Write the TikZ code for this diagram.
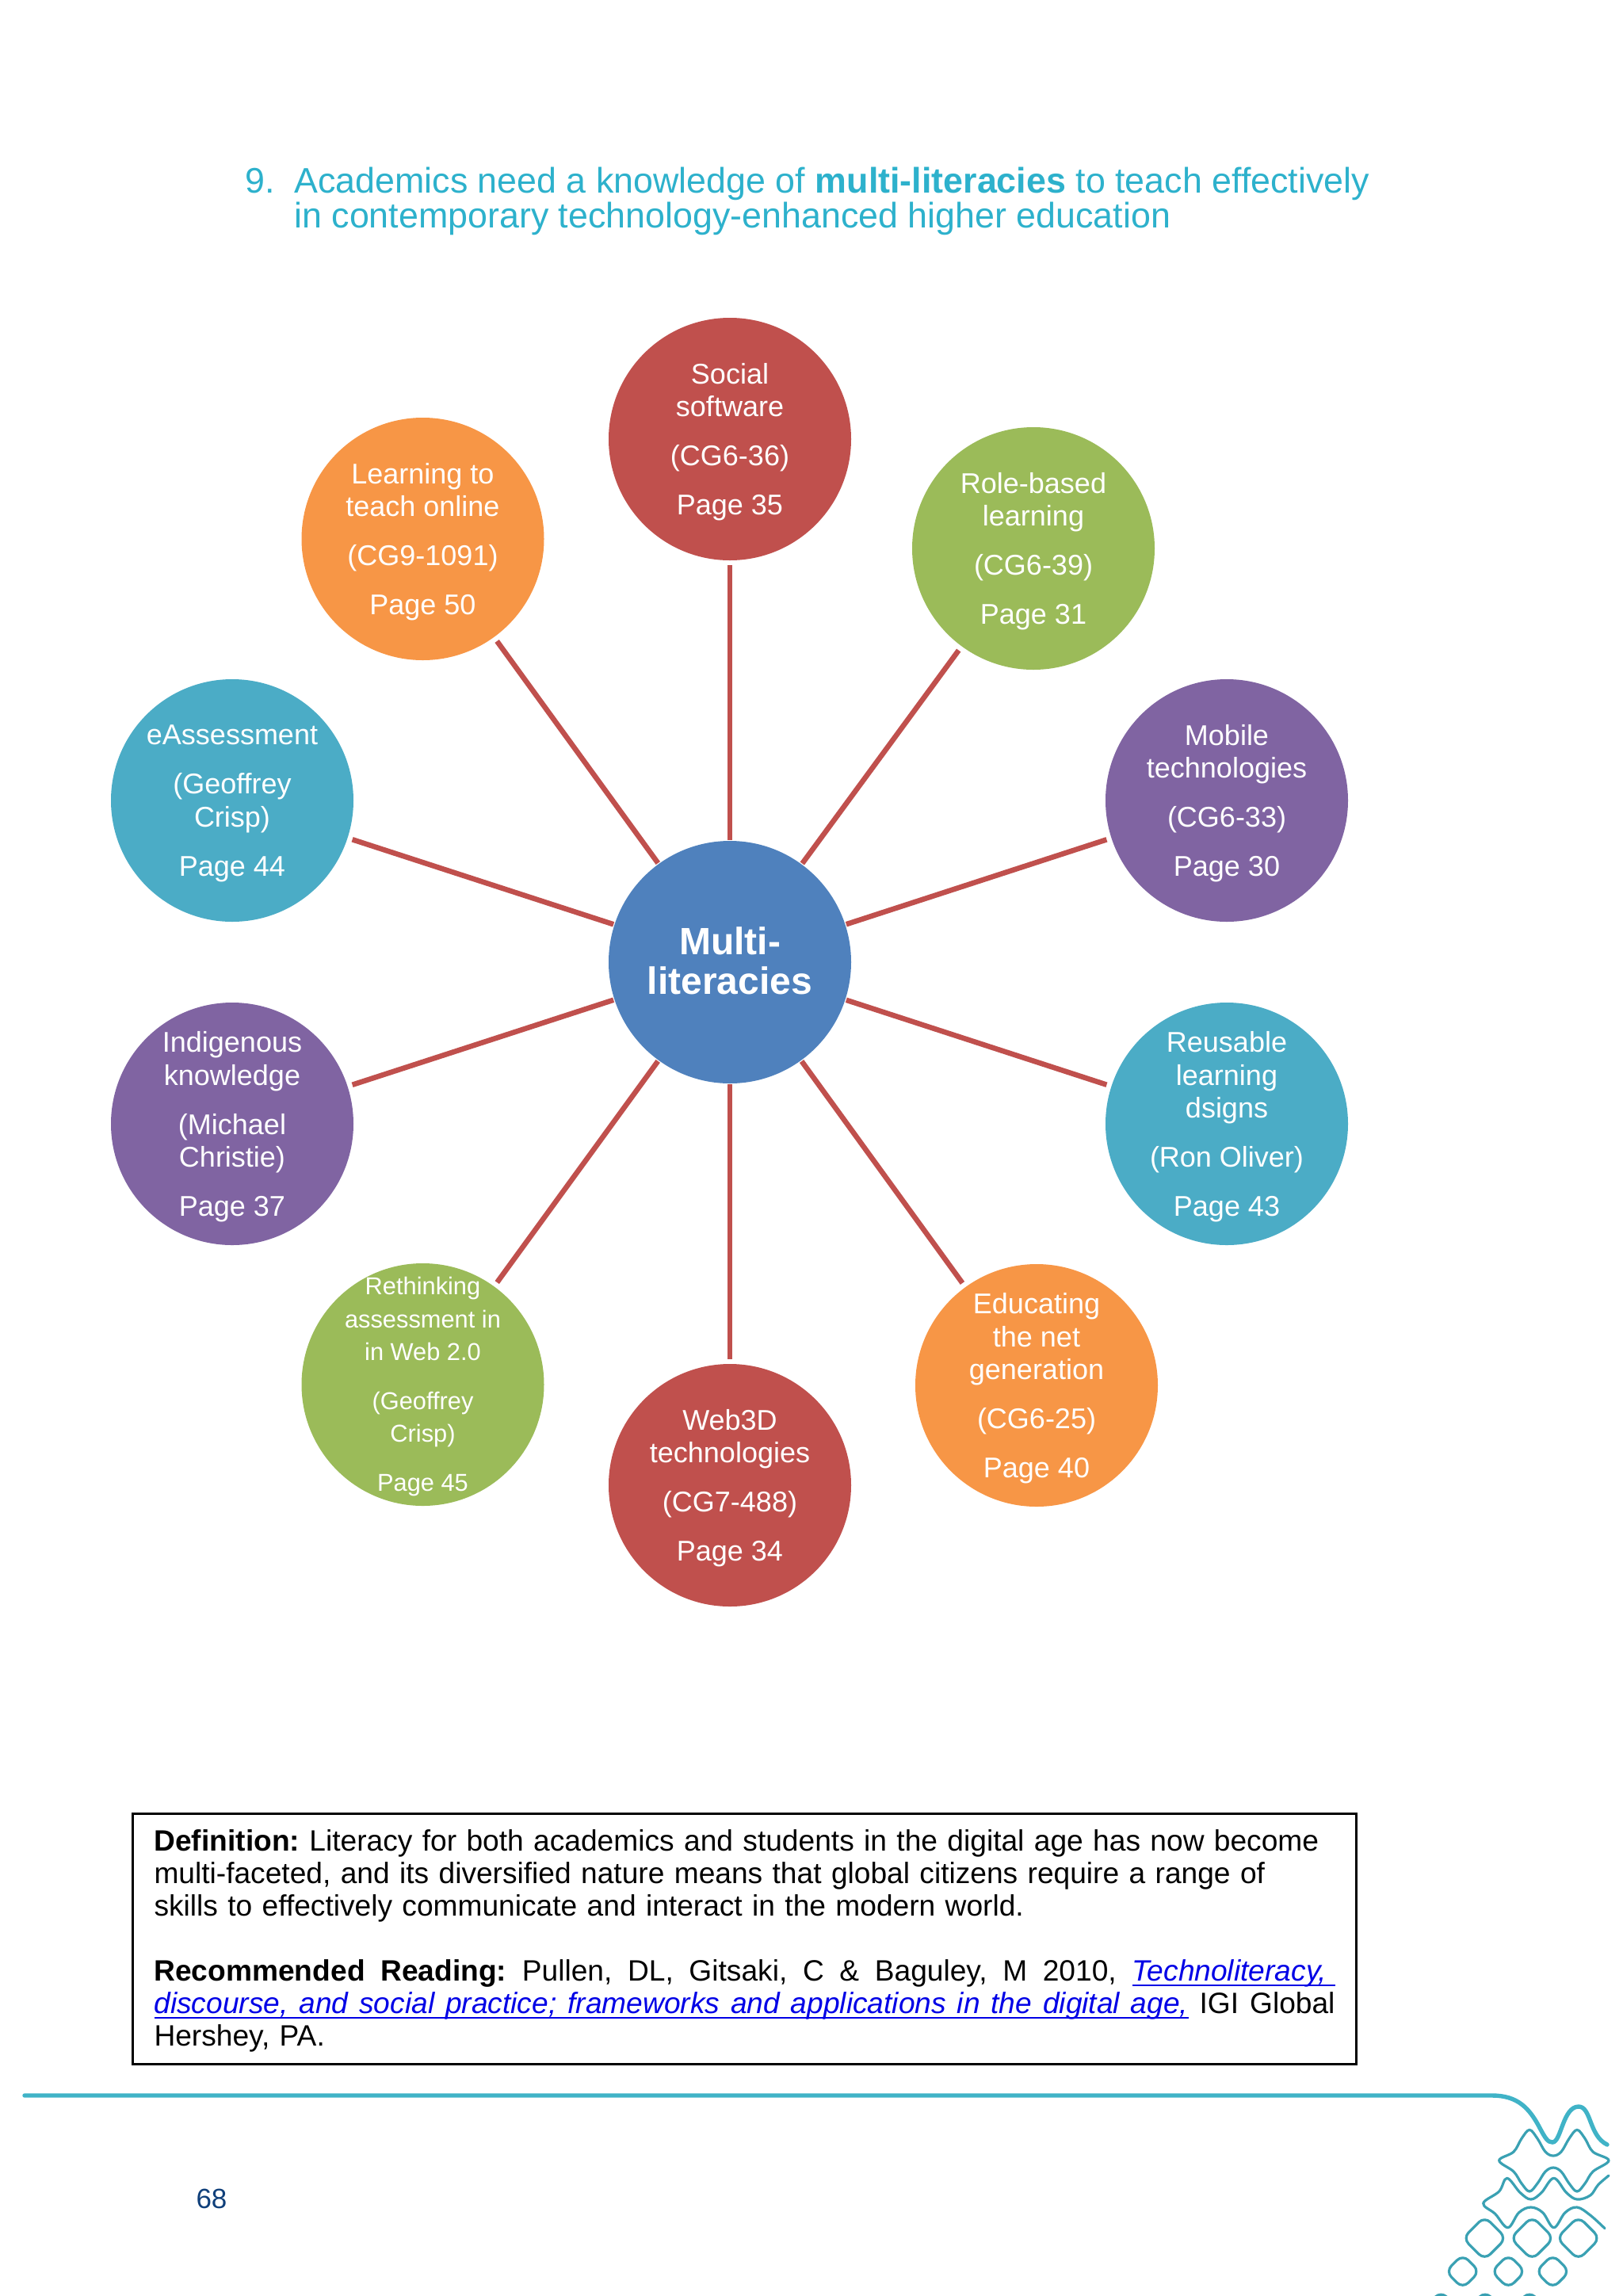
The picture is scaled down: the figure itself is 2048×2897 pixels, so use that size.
\documentclass[tikz,border=0pt]{standalone}
\usepackage{fontspec}
\setmainfont{Liberation Sans}
\definecolor{cred}{HTML}{C0504D}
\definecolor{cgreen}{HTML}{9BBB59}
\definecolor{cpurple}{HTML}{8064A2}
\definecolor{caqua}{HTML}{4BACC6}
\definecolor{corange}{HTML}{F79646}
\definecolor{cblue}{HTML}{4F81BD}
\definecolor{ctitle}{HTML}{2DB1CC}
\definecolor{cfoot}{HTML}{40B3C7}
\definecolor{clink}{HTML}{0000E6}
\definecolor{cnum}{HTML}{0F3F7A}
\newcommand{\ulbox}[2]{\leavevmode\rlap{\rule[-3.6pt]{#1}{1.4pt}}\hbox to #1{\spaceskip=.278em plus 1fil\relax #2}}
\tikzset{
  bub/.style={circle,minimum size=153pt,inner sep=0pt,draw=none},
  bubtext/.style={align=center,text=white,inner sep=0pt,yshift=-1.9pt,font=\fontsize{18}{20.6}\selectfont},
  smalltext/.style={align=center,text=white,inner sep=0pt,yshift=-1.4pt,font=\fontsize{15.4}{20.6}\selectfont},
  spoke/.style={draw=cred,line width=3.3pt,shorten <=0.5pt,shorten >=3pt},
  titletext/.style={anchor=base west,inner sep=0pt,text=ctitle,font=\fontsize{22.4}{22}\selectfont},
  art/.style={draw=cfoot!90!black,line width=1.6pt,line join=round,line cap=round}
}
\begin{document}
\begin{tikzpicture}[x=0.5pt,y=-0.5pt]
\useasboundingbox (0,0) rectangle (2048,2897);
% title
\node[titletext] (tn) at (309,243) {9.};
\node[titletext] (t1) at (371,243) {Academics need a knowledge of \textbf{multi-literacies} to teach effectively};
\node[titletext] (t2) at (371,287) {in contemporary technology-enhanced higher education};
% bubbles
\node[bub,fill=cblue] (hub) at (921,1214) {};
\node[align=center,text=white,inner sep=0pt,font=\fontsize{24}{25}\selectfont\bfseries] (hubt) at (921,1212) {Multi-\\literacies};
\node[bub,fill=cred,label={[bubtext]center:{Social\\software\\[10.4pt](CG6-36)\\[10.4pt]Page 35}}] (a) at (921,554) {};
\node[bub,fill=cgreen,label={[bubtext]center:{Role-based\\learning\\[10.4pt](CG6-39)\\[10.4pt]Page 31}}] (b) at (1304,692) {};
\node[bub,fill=cpurple,label={[bubtext]center:{Mobile\\technologies\\[10.4pt](CG6-33)\\[10.4pt]Page 30}}] (c) at (1548,1010) {};
\node[bub,fill=caqua,label={[bubtext]center:{Reusable\\learning\\dsigns\\[10.4pt](Ron Oliver)\\[10.4pt]Page 43}}] (d) at (1548,1418) {};
\node[bub,fill=corange,label={[bubtext]center:{Educating\\the net\\generation\\[10.4pt](CG6-25)\\[10.4pt]Page 40}}] (e) at (1308,1748) {};
\node[bub,fill=cred,label={[bubtext]center:{Web3D\\technologies\\[10.4pt](CG7-488)\\[10.4pt]Page 34}}] (f) at (921,1874) {};
\node[bub,fill=cgreen,label={[smalltext]center:{Rethinking\\assessment in\\in Web 2.0\\[10.4pt](Geoffrey\\Crisp)\\[10.4pt]Page 45}}] (g) at (533.5,1747) {};
\node[bub,fill=cpurple,label={[bubtext]center:{Indigenous\\knowledge\\[10.4pt](Michael\\Christie)\\[10.4pt]Page 37}}] (h) at (293,1418) {};
\node[bub,fill=caqua,label={[bubtext]center:{eAssessment\\[10.4pt](Geoffrey\\Crisp)\\[10.4pt]Page 44}}] (i) at (293,1010) {};
\node[bub,fill=corange,label={[bubtext]center:{Learning to\\teach online\\[10.4pt](CG9-1091)\\[10.4pt]Page 50}}] (j) at (533.5,680) {};
% spokes
\foreach \s in {a,b,c,d,e,f,g,h,i,j} \draw[spoke] (hub) -- (\s);
% definition box
\node[draw=black,line width=1.5pt,minimum width=772pt,minimum height=158pt,inner sep=0pt] (box) at (939,2446) {};
\node[inner sep=0pt,text width=745pt,align=left,font=\fontsize{18.57}{20.5}\selectfont\frenchspacing] (boxt) at (939.5,2448.5) {%
\textbf{Definition:} Literacy for both academics and students in the digital age has now become\\
multi-faceted, and its diversified nature means that global citizens require a range of\\
skills to effectively communicate and interact in the modern world.\\[20.5pt]
\leavevmode\hbox to 745pt{\spaceskip=.278em plus 1fil\relax \textbf{Recommended Reading:} Pullen, DL, Gitsaki, C \& Baguley, M 2010, \textcolor{clink}{\ulbox{128pt}{\textit{Technoliteracy,}}}}\\
\leavevmode\hbox to 745pt{\spaceskip=.278em plus 1fil\relax \textcolor{clink}{\ulbox{652.5pt}{\textit{discourse, and social practice; frameworks and applications in the digital age,}}} IGI Global}\\
Hershey, PA.};
% page number
\node[inner sep=0pt,text=cnum,font=\fontsize{17.5}{20}\selectfont] (pg) at (267,2774) {68};
% footer
\coordinate (fl) at (31,2644);
\coordinate (fr) at (1883,2644);
\draw[cfoot,line width=2.7pt,line cap=round] (fl) -- (fr) .. controls (1915,2644) and (1930,2660) .. (1943,2685) .. controls (1950,2698) and (1953,2703) .. (1959,2703) .. controls (1970,2703) and (1972,2658) .. (1992,2658) .. controls (2008,2658) and (2005,2695) .. (2028,2706);
\begin{scope}[shift={(1700,2600)},x=0.16667pt,y=-0.16667pt]
\draw[art] plot[smooth cycle,tension=.6] coordinates {(575,378)(630,345)(660,295)(690,262)(720,295)(750,345)(780,360)(810,345)(840,295)(870,262)(900,295)(930,345)(990,378)(930,420)(900,465)(870,495)(840,465)(810,420)(780,405)(750,420)(720,465)(690,495)(660,465)(630,420)};
\draw[art] plot[smooth,tension=.6] coordinates {(990,435)(950,470)(920,510)(870,525)(830,500)(782,445)(735,500)(695,525)(655,500)(605,445)(575,495)(515,540)(560,580)(608,632)(650,575)(695,555)(740,575)(782,632)(825,575)(870,555)(920,585)(975,635)};
\foreach \cx/\cy/\w in {520/672/82,700/672/82,875/672/82,437/798/64,610/798/64,778/798/64,355/925/52,522/925/52,690/925/52}
  \draw[art,rounded corners=5pt] (\cx-\w,\cy) -- (\cx,\cy-\w) -- (\cx+\w,\cy) -- (\cx,\cy+\w) -- cycle;
\end{scope}
\end{tikzpicture}
\end{document}
